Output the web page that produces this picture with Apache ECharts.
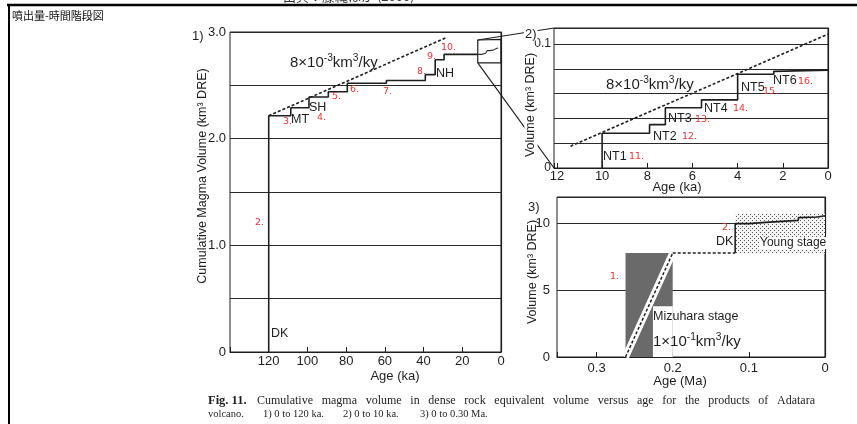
<!DOCTYPE html>
<html><head><meta charset="utf-8">
<script src="https://cdn.jsdelivr.net/npm/echarts@6/dist/echarts.min.js"></script>
<style>html,body{margin:0;padding:0;background:#fff}#c{width:857px;height:424px}</style>
</head><body><div id="c"></div>
<script>
// ---------- Panel 1 : 0-120 ka ----------
const p1StepAges = [120, 108.6, 99.2, 89.2, 79.4, 59.2, 39.1, 34, 29.4];
const p1StepVols = [2.215, 2.29, 2.39, 2.44, 2.52, 2.545, 2.60, 2.74, 2.79];
const p1InsetAges = [10, 7.9, 7.2, 5.6, 4.0, 2.4];
const p1InsetVols = [2.80, 2.81, 2.825, 2.83, 2.845, 2.85];
const p1InsetEndAge = 1.5;
const p1RateLine = [[120, 2.215], [28, 2.95]];
const p1InsetBoxAges = [12, 12, 0, 0, 12];
const p1InsetBoxVols = [2.71, 2.925, 2.93, 2.71, 2.71];
const p1XMax = 140, p1XStep = 20, p1YMax = 3.0, p1YStep = 0.5;

// ---------- Panel 2 : 0-10 ka ----------
const p2StepAges = [10, 7.9, 7.2, 5.6, 4.0, 2.4];
const p2StepVols = [0.028, 0.035, 0.0486, 0.055, 0.0757, 0.078];
const p2EndAge = 0, p2EndVol = 0.079;
const p2RateLine = [[11.4, 0.0176], [0, 0.108]];
const p2XMax = 12.13, p2XStep = 2, p2YMax = 0.113, p2YStep = 0.02;

// ---------- Panel 3 : 0-0.30 Ma ----------
const p3MizuharaAges = [0.262, 0.2];
const p3MizuharaVols = [0, 7.8];
const p3RateLine = [[0.262, 0], [0.2, 7.8]];
const p3GapLine = [[0.2, 7.8], [0.118, 7.8]];
const p3StepAges = [0.118, 0.118, 0.1, 0.1, 0.078, 0.078, 0.035, 0.035, 0.01, 0.01, 0];
const p3StepVols = [7.8, 10.0, 10.0, 10.1, 10.1, 10.2, 10.25, 10.45, 10.5, 10.6, 10.6];
const p3YoungAges = [0.118, 0];
const p3YoungVols = [7.75, 10.75];
const p3XMax = 0.352, p3XStep = 0.1, p3YMax = 12, p3YStep = 5;

// ---------- helpers ----------
function stepPath(ages, vols, startVol, endAge, endVol) {
  const pts = [[ages[0], startVol]];
  for (let i = 0; i < ages.length; i++) {
    if (i > 0) pts.push([ages[i], vols[i - 1]]);
    pts.push([ages[i], vols[i]]);
  }
  pts.push([endAge, endVol === undefined ? vols[vols.length - 1] : endVol]);
  return pts;
}
const zip = (a, b) => a.map((v, i) => [v, b[i]]);

const INK = '#1e1e1e';
const SANS = '"Liberation Sans", Arial, sans-serif';
const SERIF = '"Liberation Serif", "Times New Roman", serif';
const RED = '#f03232';

function xAxisCfg(gi, max, step, fmt, margin) {
  return {
    type: 'value', gridIndex: gi, inverse: true, min: 0, max: max, interval: step,
    axisLine: { show: true, onZero: false, lineStyle: { color: INK, width: 1.2 } },
    axisTick: { show: true, inside: true, length: 5, lineStyle: { color: INK } },
    splitLine: { show: false },
    axisLabel: { color: INK, fontFamily: SANS, fontSize: 13, margin: margin, formatter: fmt, showMaxLabel: true, showMinLabel: true }
  };
}
function yAxisCfg(gi, max, step, fmt, margin, size) {
  return {
    type: 'value', gridIndex: gi, min: 0, max: max, interval: step,
    axisLine: { show: true, lineStyle: { color: INK, width: 1.2 } },
    axisTick: { show: false },
    splitLine: { show: true, lineStyle: { color: '#2a2a2a', width: 1 } },
    axisLabel: { color: INK, fontFamily: SANS, fontSize: size || 13, margin: margin, formatter: fmt }
  };
}
const near = (a, b) => Math.abs(a - b) < 1e-6;

// steps
const p1Main = stepPath(p1StepAges, p1StepVols, 0, 12);
const p1Inset = stepPath(p1InsetAges, p1InsetVols, p1StepVols[p1StepVols.length - 1], p1InsetEndAge);
p1Inset.unshift([12, p1StepVols[p1StepVols.length - 1]]);
const p2Main = stepPath(p2StepAges, p2StepVols, 0, p2EndAge, p2EndVol);

// dot pattern for Young stage
function dotPattern() {
  const c = document.createElement('canvas'); c.width = 4; c.height = 4;
  const g = c.getContext('2d');
  g.fillStyle = '#f4f4f4'; g.fillRect(0, 0, 4, 4);
  g.fillStyle = '#5a5a5a'; g.fillRect(0, 0, 1, 1); g.fillRect(2, 2, 1, 1);
  return c;
}

const lineBase = { type: 'line', showSymbol: false, symbol: 'none', silent: true, animation: false };

const option = {
  animation: false,
  backgroundColor: '#fff',
  grid: [
    { left: 230, top: 32, width: 271, height: 320, show: true, borderColor: INK, borderWidth: 1 },
    { left: 554, top: 28, width: 274, height: 140, show: true, borderColor: INK, borderWidth: 1 },
    { left: 557, top: 197, width: 268, height: 160, show: true, borderColor: INK, borderWidth: 1 }
  ],
  xAxis: [
    xAxisCfg(0, p1XMax, p1XStep, v => (v <= 120 ? String(v) : ''), 3),
    xAxisCfg(1, p2XMax, p2XStep, v => (near(v, Math.round(v)) && Math.round(v) % 2 === 0 && v <= 12 ? String(Math.round(v)) : ''), 2),
    xAxisCfg(2, p3XMax, p3XStep, v => { const r = Math.round(v * 10) / 10; return near(v, r) && r <= 0.3 ? (r === 0 ? '0' : r.toFixed(1)) : ''; }, 5)
  ],
  yAxis: [
    yAxisCfg(0, p1YMax, p1YStep, v => (near(v, Math.round(v)) ? (Math.round(v) === 0 ? '0' : v.toFixed(1)) : ''), 4),
    yAxisCfg(1, p2YMax, p2YStep, v => (near(v, 0) ? '0' : near(v, 0.1) ? '0.1' : ''), 3, 12),
    yAxisCfg(2, p3YMax, p3YStep, v => (near(v % 5, 0) && v <= 10 ? String(v) : ''), 7)
  ],
  series: [
    // panel 1
    Object.assign({}, lineBase, { xAxisIndex: 0, yAxisIndex: 0, data: p1Main, lineStyle: { color: INK, width: 1.6 }, z: 4 }),
    Object.assign({}, lineBase, { xAxisIndex: 0, yAxisIndex: 0, data: p1RateLine, lineStyle: { color: INK, width: 1.6, type: [3, 2] }, z: 4 }),
    Object.assign({}, lineBase, { xAxisIndex: 0, yAxisIndex: 0, data: zip(p1InsetBoxAges, p1InsetBoxVols), lineStyle: { color: INK, width: 1.2 }, z: 4 }),
    Object.assign({}, lineBase, { xAxisIndex: 0, yAxisIndex: 0, data: p1Inset, lineStyle: { color: '#333', width: 1.1 }, z: 4 }),
    // panel 2
    Object.assign({}, lineBase, { xAxisIndex: 1, yAxisIndex: 1, data: p2Main, lineStyle: { color: INK, width: 1.6 }, z: 4 }),
    Object.assign({}, lineBase, { xAxisIndex: 1, yAxisIndex: 1, data: p2RateLine, lineStyle: { color: INK, width: 1.6, type: [3, 2] }, z: 4 }),
    // panel 3 : areas
    Object.assign({}, lineBase, {
      xAxisIndex: 2, yAxisIndex: 2, data: [],
      markArea: {
        silent: true,
        data: [
          [{ xAxis: p3MizuharaAges[0], yAxis: p3MizuharaVols[0], itemStyle: { color: '#6a6a6a' } }, { xAxis: p3MizuharaAges[1], yAxis: p3MizuharaVols[1] }],
          [{ xAxis: 0.226, yAxis: 0, itemStyle: { color: '#ffffff' } }, { xAxis: 0.2, yAxis: 3.8 }],
          [{ xAxis: p3YoungAges[0], yAxis: p3YoungVols[0], itemStyle: { color: { image: dotPattern(), repeat: 'repeat' } } }, { xAxis: p3YoungAges[1], yAxis: p3YoungVols[1] }]
        ]
      }, z: 2
    }),
    Object.assign({}, lineBase, { xAxisIndex: 2, yAxisIndex: 2, data: p3RateLine, lineStyle: { color: '#ffffff', width: 7 }, z: 5 }),
    Object.assign({}, lineBase, { xAxisIndex: 2, yAxisIndex: 2, data: p3RateLine, lineStyle: { color: INK, width: 1.5, type: [3, 2] }, z: 6 }),
    Object.assign({}, lineBase, { xAxisIndex: 2, yAxisIndex: 2, data: p3GapLine, lineStyle: { color: INK, width: 1.6, type: [3, 2] }, z: 5 }),
    Object.assign({}, lineBase, { xAxisIndex: 2, yAxisIndex: 2, data: zip(p3StepAges, p3StepVols), lineStyle: { color: INK, width: 1.6 }, z: 5 })
  ]
};

const chart = echarts.init(document.getElementById('c'), null, { renderer: 'canvas' });
chart.setOption(option);

// ---------- texts & decorations ----------
function T(text, x, y, size, opts) {
  opts = opts || {};
  return {
    type: 'text', z: opts.z || 100, silent: true, rotation: opts.rot || 0, x: x, y: y,
    style: Object.assign({
      text: text, fill: opts.color || INK, fontSize: size, fontFamily: opts.font || SANS,
      fontWeight: opts.weight || 'normal',
      align: opts.align || 'left', verticalAlign: opts.va || 'middle'
    }, opts.style || {})
  };
}
const rate = (a, b) => '{n|' + a + '\u00d710}{s|-' + b + '}{n|km}{s|3}{n|/ky}';
const rateRich = size => ({ n: { fontSize: size, fontFamily: SANS, fill: INK, lineHeight: size + 2, verticalAlign: 'bottom' }, s: { fontSize: size * 0.68, fontFamily: SANS, fill: INK, verticalAlign: 'top', lineHeight: size + 2 } });
const R = (t, x, y) => T(t, x, y, 9.5, { color: RED, font: '"DejaVu Sans", sans-serif' });

const g = [];
// page frame & header
g.push({ type: 'line', z: 100, shape: { x1: 7, y1: 5, x2: 857, y2: 5 }, style: { stroke: '#000', lineWidth: 2.6 } });
g.push({ type: 'line', z: 100, shape: { x1: 9, y1: 5, x2: 9, y2: 424 }, style: { stroke: '#000', lineWidth: 2 } });
g.push(T('噴出量-時間階段図', 12, 16, 11, { font: '"Noto Sans CJK JP", sans-serif', color: '#111' }));
g.push(T('出典：藤縄ほか (2000)', 283, 2.5, 13, { font: '"Noto Sans CJK JP", sans-serif', color: '#333', va: 'bottom' }));

// panel 1
g.push(T('1)', 192, 36, 13));
g.push(T('Cumulative Magma Volume (km\u00b3 DRE)', 203, 176, 12.5, { rot: Math.PI / 2, align: 'center' }));
g.push(T('Age (ka)', 395, 376, 13, { align: 'center' }));
g.push({ type: 'text', z: 100, silent: true, x: 290, y: 62, style: { text: rate(8, 3), rich: rateRich(15), align: 'left', verticalAlign: 'middle' } });
g.push(T('MT', 291, 120, 12.5));
g.push(T('SH', 309, 108, 12.5));
g.push(T('NH', 436, 74, 12.5));
g.push(T('DK', 271, 334, 12.5));
[['2.', 255, 223], ['3.', 283, 122], ['4.', 317, 118], ['5.', 332, 97], ['6.', 350, 90], ['7.', 383, 92],
 ['8.', 417, 72], ['9.', 427, 57], ['10.', 441, 48]].forEach(a => g.push(R(a[0], a[1], a[2])));

// connectors from inset box to panel 2
const c1 = chart.convertToPixel({ xAxisIndex: 0, yAxisIndex: 0 }, [12, 2.925]);
const c2 = chart.convertToPixel({ xAxisIndex: 0, yAxisIndex: 0 }, [12, 2.71]);
const d1 = chart.convertToPixel({ xAxisIndex: 1, yAxisIndex: 1 }, [p2XMax, p2YMax]);
const d2 = chart.convertToPixel({ xAxisIndex: 1, yAxisIndex: 1 }, [p2XMax, 0]);
g.push({ type: 'line', z: 90, shape: { x1: c1[0], y1: c1[1], x2: d1[0], y2: d1[1] }, style: { stroke: INK, lineWidth: 1.2 } });
g.push({ type: 'line', z: 90, shape: { x1: c2[0], y1: c2[1], x2: d2[0], y2: d2[1] }, style: { stroke: INK, lineWidth: 1.2 } });

// panel 2
g.push(T('2)', 524, 34, 13, { z: 95, style: { backgroundColor: '#fff', padding: [0, 1] } }));
g.push(T('Volume (km\u00b3 DRE)', 531, 105, 12.5, { z: 95, rot: Math.PI / 2, align: 'center', style: { backgroundColor: '#fff', padding: [0, 1] } }));
g.push(T('Age (ka)', 677, 187, 13, { align: 'center' }));
g.push({ type: 'text', z: 100, silent: true, x: 606, y: 84, style: { text: rate(8, 3), rich: rateRich(15), align: 'left', verticalAlign: 'middle' } });
[['NT1', 603, 157], ['NT2', 653, 137], ['NT3', 668, 119], ['NT4', 704, 109], ['NT5', 741, 88], ['NT6', 773, 81]]
  .forEach(a => g.push(T(a[0], a[1], a[2], 12.5)));
[['11.', 629, 157], ['12.', 682, 137], ['13.', 695, 120], ['14.', 733, 109], ['15.', 763, 92], ['16.', 798, 82]]
  .forEach(a => g.push(R(a[0], a[1], a[2])));

// panel 3
g.push(T('3)', 528, 207, 13));
g.push(T('Volume (km\u00b3 DRE)', 533, 272, 12.5, { rot: Math.PI / 2, align: 'center' }));
g.push(T('Age (Ma)', 680, 381, 13, { align: 'center' }));
g.push(T('DK', 716, 242, 12.5));
g.push(T('Young stage', 759, 243, 12, { style: { backgroundColor: '#fff', padding: [0, 1] } }));
g.push(T('Mizuhara stage', 653, 317, 12.5));
g.push({ type: 'text', z: 100, silent: true, x: 653, y: 341, style: { text: rate(1, 1), rich: rateRich(15), align: 'left', verticalAlign: 'middle' } });
g.push(R('2.', 722, 228));
g.push(R('1.', 610, 277));

// caption (justified like the scan)
const cv = document.createElement('canvas').getContext('2d');
function measure(t, font) { cv.font = font; return cv.measureText(t).width; }
g.push(T('Fig. 11.', 208, 401, 12.5, { font: SERIF, weight: 'bold' }));
const words = ['Cumulative', 'magma', 'volume', 'in', 'dense', 'rock', 'equivalent', 'volume', 'versus', 'age', 'for', 'the', 'products', 'of', 'Adatara'];
const capFont = '12px "Liberation Serif"';
const ws = words.map(w => measure(w, capFont));
const x0 = 257, x1 = 815;
const gap = (x1 - x0 - ws.reduce((a, b) => a + b, 0)) / (words.length - 1);
let cx = x0;
words.forEach((w, i) => { g.push(T(w, cx, 401, 12, { font: SERIF })); cx += ws[i] + gap; });
[['volcano.', 208], ['1) 0 to 120 ka.', 263], ['2) 0 to 10 ka.', 343], ['3) 0 to 0.30 Ma.', 420]]
  .forEach(a => g.push(T(a[0], a[1], 414, 10.5, { font: SERIF })));

chart.setOption({ graphic: g });
</script>
</body></html>
